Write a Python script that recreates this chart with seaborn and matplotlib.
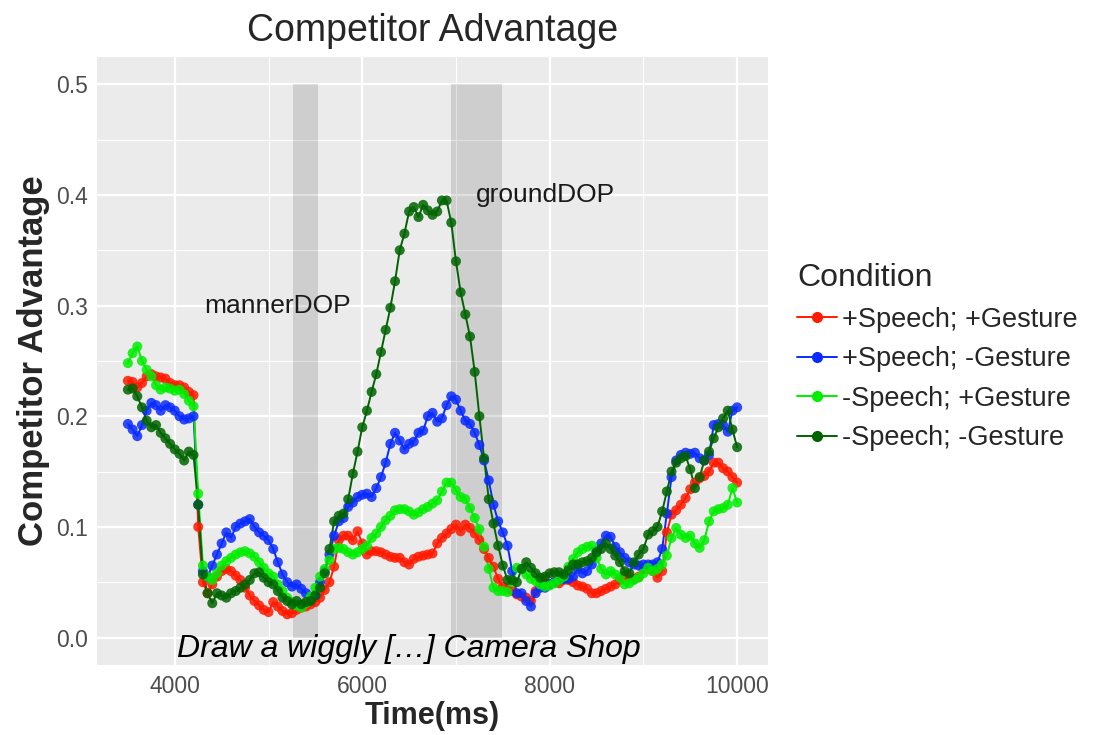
import numpy as np
import pandas as pd
import seaborn as sns
import matplotlib.pyplot as plt
from matplotlib.lines import Line2D

# time grid (ms), one sample every 50 ms
time_ms = list(range(3500, 10001, 50))

conditions = ["+Speech; +Gesture", "+Speech; -Gesture", "-Speech; +Gesture", "-Speech; -Gesture"]
colors = ["#FF1A00", "#0A2BFF", "#00EE00", "#006400"]

# values, rows of 10 = 500 ms
sp_gp = [0.232, 0.231, 0.226, 0.230, 0.236, 0.238, 0.236, 0.235, 0.234, 0.230,
         0.228, 0.228, 0.226, 0.222, 0.219, 0.100, 0.050, 0.040, 0.048, 0.055,
         0.060, 0.062, 0.060, 0.056, 0.052, 0.045, 0.038, 0.033, 0.029, 0.025,
         0.023, 0.032, 0.028, 0.024, 0.021, 0.022, 0.025, 0.027, 0.028, 0.030,
         0.032, 0.036, 0.043, 0.050, 0.064, 0.088, 0.092, 0.092, 0.088, 0.096,
         0.085, 0.075, 0.078, 0.078, 0.077, 0.075, 0.073, 0.072, 0.072, 0.068,
         0.066, 0.071, 0.073, 0.074, 0.075, 0.076, 0.085, 0.090, 0.094, 0.098,
         0.102, 0.096, 0.102, 0.099, 0.094, 0.088, 0.080, 0.072, 0.064, 0.053,
         0.046, 0.044, 0.042, 0.039, 0.037, 0.036, 0.033, 0.042, 0.048, 0.050,
         0.048, 0.050, 0.049, 0.052, 0.052, 0.050, 0.047, 0.046, 0.044, 0.040,
         0.040, 0.042, 0.044, 0.046, 0.048, 0.052, 0.056, 0.054, 0.053, 0.055,
         0.062, 0.062, 0.060, 0.054, 0.060, 0.095, 0.111, 0.115, 0.120, 0.126,
         0.134, 0.140, 0.144, 0.146, 0.150, 0.158, 0.158, 0.153, 0.150, 0.145,
         0.140]

sp_gm = [0.193, 0.188, 0.182, 0.192, 0.205, 0.212, 0.210, 0.205, 0.210, 0.208,
         0.205, 0.200, 0.197, 0.198, 0.200, 0.120, 0.060, 0.055, 0.065, 0.075,
         0.085, 0.095, 0.090, 0.100, 0.103, 0.105, 0.107, 0.100, 0.095, 0.092,
         0.088, 0.080, 0.068, 0.057, 0.050, 0.046, 0.048, 0.044, 0.040, 0.036,
         0.038, 0.050, 0.060, 0.075, 0.092, 0.105, 0.108, 0.118, 0.122, 0.127,
         0.129, 0.130, 0.127, 0.135, 0.145, 0.158, 0.175, 0.185, 0.178, 0.170,
         0.175, 0.177, 0.185, 0.187, 0.200, 0.203, 0.195, 0.198, 0.210, 0.218,
         0.215, 0.205, 0.196, 0.193, 0.185, 0.174, 0.160, 0.142, 0.120, 0.105,
         0.095, 0.083, 0.060, 0.040, 0.040, 0.033, 0.028, 0.040, 0.045, 0.045,
         0.048, 0.050, 0.052, 0.053, 0.053, 0.055, 0.062, 0.058, 0.060, 0.066,
         0.078, 0.085, 0.092, 0.091, 0.082, 0.077, 0.072, 0.068, 0.066, 0.065,
         0.066, 0.066, 0.066, 0.068, 0.080, 0.112, 0.145, 0.160, 0.165, 0.167,
         0.166, 0.167, 0.162, 0.160, 0.165, 0.192, 0.193, 0.192, 0.186, 0.205,
         0.208]

sm_gp = [0.248, 0.257, 0.263, 0.250, 0.242, 0.236, 0.228, 0.224, 0.226, 0.225,
         0.223, 0.224, 0.220, 0.214, 0.209, 0.130, 0.065, 0.055, 0.052, 0.058,
         0.065, 0.069, 0.072, 0.075, 0.077, 0.078, 0.076, 0.073, 0.068, 0.063,
         0.058, 0.055, 0.048, 0.042, 0.036, 0.032, 0.029, 0.027, 0.031, 0.037,
         0.045, 0.055, 0.062, 0.070, 0.080, 0.081, 0.080, 0.077, 0.075, 0.077,
         0.080, 0.083, 0.090, 0.094, 0.100, 0.106, 0.110, 0.115, 0.116, 0.116,
         0.114, 0.111, 0.113, 0.116, 0.118, 0.121, 0.124, 0.132, 0.140, 0.140,
         0.133, 0.127, 0.125, 0.117, 0.108, 0.098, 0.082, 0.062, 0.045, 0.042,
         0.042, 0.041, 0.050, 0.063, 0.062, 0.057, 0.053, 0.051, 0.048, 0.046,
         0.047, 0.049, 0.052, 0.055, 0.064, 0.071, 0.077, 0.080, 0.082, 0.083,
         0.072, 0.062, 0.057, 0.060, 0.057, 0.054, 0.048, 0.049, 0.052, 0.054,
         0.058, 0.063, 0.060, 0.062, 0.066, 0.074, 0.090, 0.099, 0.093, 0.090,
         0.092, 0.085, 0.081, 0.088, 0.105, 0.114, 0.116, 0.117, 0.120, 0.135,
         0.122]

sm_gm = [0.224, 0.225, 0.218, 0.208, 0.196, 0.190, 0.192, 0.185, 0.180, 0.175,
         0.170, 0.166, 0.160, 0.168, 0.165, 0.120, 0.057, 0.040, 0.031, 0.040,
         0.038, 0.036, 0.040, 0.042, 0.045, 0.048, 0.052, 0.058, 0.059, 0.054,
         0.050, 0.048, 0.042, 0.036, 0.033, 0.030, 0.033, 0.030, 0.032, 0.033,
         0.038, 0.045, 0.058, 0.080, 0.105, 0.110, 0.112, 0.125, 0.148, 0.168,
         0.190, 0.205, 0.222, 0.238, 0.258, 0.278, 0.298, 0.322, 0.350, 0.365,
         0.385, 0.389, 0.380, 0.391, 0.386, 0.382, 0.385, 0.395, 0.395, 0.375,
         0.340, 0.312, 0.292, 0.272, 0.240, 0.200, 0.162, 0.125, 0.103, 0.083,
         0.065, 0.052, 0.052, 0.050, 0.062, 0.068, 0.063, 0.058, 0.054, 0.055,
         0.058, 0.059, 0.059, 0.057, 0.061, 0.066, 0.066, 0.068, 0.069, 0.072,
         0.077, 0.080, 0.085, 0.080, 0.074, 0.068, 0.060, 0.058, 0.068, 0.075,
         0.080, 0.093, 0.096, 0.100, 0.114, 0.132, 0.150, 0.158, 0.162, 0.164,
         0.152, 0.135, 0.145, 0.160, 0.168, 0.180, 0.190, 0.198, 0.205, 0.188,
         0.172]

# shaded windows (ms) and their labels
dop_windows = [(5260, 5525), (6945, 7490)]
dop_labels = ["mannerDOP", "groundDOP"]
dop_label_pos = [(5100, 0.30), (7950, 0.40)]

df = pd.DataFrame({
    "Time": time_ms * 4,
    "Advantage": sp_gp + sp_gm + sm_gp + sm_gm,
    "Condition": np.repeat(conditions, len(time_ms)),
})

sns.set_theme(style="darkgrid")
plt.rcParams['font.family'] = ['Liberation Sans', 'DejaVu Sans']

fig = plt.figure(figsize=(10.95, 7.35), dpi=100)
ax = fig.add_axes([0.089, 0.095, 0.612, 0.828])
ax.set_facecolor("#EBEBEB")

for (x0, x1) in dop_windows:
    ax.axvspan(x0, x1, ymin=0.025 / 0.55, ymax=0.525 / 0.55, color="black", alpha=0.12, lw=0, zorder=1)

pal = dict(zip(conditions, colors))
sns.lineplot(data=df, x="Time", y="Advantage", hue="Condition", palette=pal,
             linewidth=1.4, legend=False, ax=ax, zorder=3)
sns.scatterplot(data=df, x="Time", y="Advantage", hue="Condition", palette=pal,
                s=52, alpha=0.85, edgecolor="none", legend=False, ax=ax, zorder=4)

for lab, (tx, ty) in zip(dop_labels, dop_label_pos):
    ax.text(tx, ty, lab, ha="center", va="center", fontsize=19, color="#1A1A1A", zorder=5)
ax.text(6500, -0.01, "Draw a wiggly […] Camera Shop", ha="center", va="center",
        fontsize=23, style="italic", color="black", zorder=5)

ax.set_xlim(3175, 10325)
ax.set_ylim(-0.025, 0.525)
ax.set_xticks([4000, 6000, 8000, 10000])
ax.set_yticks([0.0, 0.1, 0.2, 0.3, 0.4, 0.5])
ax.set_yticklabels(["0.0", "0.1", "0.2", "0.3", "0.4", "0.5"])
ax.set_xticks([5000, 7000, 9000], minor=True)
ax.set_yticks([0.05, 0.15, 0.25, 0.35, 0.45], minor=True)
ax.grid(which="major", color="white", linewidth=1.6)
ax.grid(which="minor", color="white", linewidth=0.8)
ax.tick_params(which="major", length=4, width=1, color="#333333", labelcolor="#4D4D4D",
               labelsize=16.5, pad=3)
ax.tick_params(which="minor", length=0)
for sp in ax.spines.values():
    sp.set_visible(False)

ax.set_xlabel("Time(ms)", fontsize=22, fontweight="bold", labelpad=2)
ax.set_ylabel("Competitor Advantage", fontsize=25, fontweight="bold", labelpad=4)
ax.set_title("Competitor Advantage", fontsize=27, pad=11)

handles = [Line2D([0], [0], color=c, marker="o", markersize=7, linewidth=1.4) for c in colors]
leg = fig.legend(handles, conditions, title="Condition", loc="center left",
                 bbox_to_anchor=(0.706, 0.514), frameon=False, fontsize=19.5,
                 title_fontsize=23, handlelength=1.45, labelspacing=0.5, handletextpad=0.2)
leg._legend_box.align = "left"

fig.savefig("out.png", dpi=100)
